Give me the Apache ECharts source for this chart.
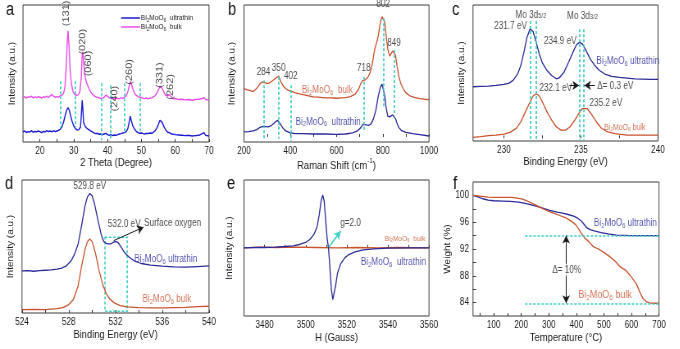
<!DOCTYPE html>
<html>
<head>
<meta charset="utf-8">
<script src="https://cdn.jsdelivr.net/npm/echarts@6/dist/echarts.min.js"></script>
<style>
  html, body { margin: 0; padding: 0; background: #fff; overflow: hidden; }
  #wrap { width: 680px; height: 349px; overflow: hidden; }
  /* the figure is laid out wide and set in a horizontally condensed frame */
  #chart { height: 349px; transform-origin: 0 0; }
</style>
</head>
<body>
<div id="wrap"><div id="chart"></div></div>
<script>
// ---------- (a) XRD patterns ----------
const xrdBulkTheta = [15,15.5,16,16.5,17,17.5,18,18.5,19,19.5,20,20.5,21,21.5,22,22.5,23,23.5,24,24.5,25,25.5,26,26.5,27,27.4,27.8,28.1,28.3,28.6,28.9,29.3,29.8,30.3,30.8,31.3,31.8,32.2,32.5,32.7,32.9,33.2,33.6,34,34.5,35,35.5,36,36.5,37,37.5,38,38.5,39,39.5,40,40.5,41,41.5,42,42.5,43,43.5,44,44.5,45,45.5,46,46.4,46.8,47.1,47.5,48,48.5,49,49.5,50,50.5,51,51.5,52,52.5,53,53.5,54,54.5,55,55.5,55.8,56.2,56.7,57.2,57.7,58.2,58.7,59.2,59.7,60.2,61,62,63,64,65,66,67,68,68.5,69,69.5,70];
const xrdBulk = [133,136,131,135,134,137,132,135,133,136,134,131,135,134,137,133,138,142,137,134,136,134,138,140,146,165,230,300,333,290,220,175,150,142,140,141,150,190,262,270,240,205,185,172,160,150,143,139,135,134,132,130,131,134,140,137,133,130,132,128,131,129,130,132,131,134,138,150,168,182,172,158,146,140,136,134,133,131,130,132,129,131,132,135,138,145,155,167,170,160,148,140,138,142,136,131,129,130,127,128,126,127,125,127,128,130,133,127,126,127];
const xrdThinTheta = [15,15.5,16,16.5,17,17.5,18,18.5,19,19.5,20,20.5,21,21.5,22,22.5,23,23.5,24,24.5,25,25.5,26,26.5,27,27.5,27.9,28.3,28.7,29.1,29.5,30,30.5,31,31.5,32,32.3,32.5,32.7,32.9,33.3,33.8,34.3,35,35.5,36,36.5,37,37.5,38,38.5,39,39.5,40,40.5,41,41.5,42,42.5,43,43.5,44,44.5,45,45.5,46,46.4,46.7,47,47.4,48,48.5,49,49.5,50,50.5,51,51.5,52,52.5,53,53.5,54,54.5,55,55.5,55.8,56.2,56.7,57.2,57.7,58.2,59,60,61,62,63,64,65,66,67,68,68.5,69,70];
const xrdThin = [30,33,28,31,30,34,29,32,30,33,31,28,32,30,34,31,33,30,34,31,33,35,38,45,60,80,95,103,95,78,62,48,40,36,37,45,90,125,100,60,48,42,38,33,30,27,25,26,23,24,22,24,26,22,20,22,19,21,20,22,24,25,27,28,31,40,60,77,65,50,38,32,28,26,27,25,24,26,25,27,26,29,33,40,52,65,68,58,45,36,30,28,24,22,21,20,19,20,18,19,20,25,28,20,18];
const xrdRefLines = [[26.1,182,41],[30.5,182,45],[38.2,176,5],[40.9,170,10],[44.9,176,30],[49.7,176,30]];
const xrdPeakLabels = [['(131)',27.9,385],['(020)',32.7,300],['(060)',34.3,235],['(240)',42.1,130],['(260)',46.6,210],['(331)',55.4,200],['(262)',58.6,165]];
const xrdXLabels = [20,30,40,50,60,70];
const xrdXTicks = [20,25,30,35,40,45,50,55,60,65,70];

// ---------- (b) Raman spectra ----------
const ramanBulkShift = [200,210,220,230,240,250,260,270,280,290,300,310,320,330,340,350,355,360,370,380,390,400,420,440,460,480,500,520,540,560,580,600,620,640,660,680,695,705,712,718,725,735,745,755,765,780,790,797,802,808,815,822,830,837,843,849,855,862,870,878,888,900,920,940,960,980,1000];
const ramanBulk = [145,142,140,138,136,142,150,160,165,163,160,162,167,172,178,182,178,165,152,145,140,138,133,129,126,123,120,119,118,117,117,116,117,118,121,128,142,160,168,172,172,178,192,220,262,300,345,360,362,345,300,262,242,245,258,262,245,212,180,160,145,132,122,118,115,113,112];
const ramanThinShift = [200,220,240,255,265,275,284,295,305,315,325,335,345,350,358,368,380,400,420,450,500,550,600,640,670,690,705,715,722,730,740,750,760,770,780,790,797,802,808,815,822,830,836,843,849,855,862,870,880,900,930,960,1000];
const ramanThin = [15,16,18,22,27,30,32,31,30,33,38,45,50,48,38,27,18,12,10,10,9,9,8,9,12,18,28,38,40,36,35,40,55,80,120,150,158,155,125,85,62,60,62,66,63,55,40,28,20,14,10,7,3];
const ramanRefLines = [[284,170,-5],[350,180,-5],[402,155,-12],[718,180,20],[802,355,90],[849,260,65]];
const ramanPeakLabels = [['284',284,195],['350',350,205],['402',402,182],['718',718,205],['802',802,397],['849',849,282]];
const ramanXLabels = [200,400,600,800,1000];
const ramanXTicks = [200,300,400,500,600,700,800,900,1000];

// ---------- (c) Mo 3d XPS ----------
const mo3dEnergyThin = [228,228.5,229,229.5,230,230.3,230.6,230.9,231.1,231.3,231.5,231.7,231.9,232.1,232.3,232.5,232.8,233.1,233.4,233.6,233.9,234.2,234.5,234.7,234.9,235.1,235.3,235.6,235.9,236.2,236.6,237,237.5,238,238.5,239,239.5,240];
const mo3dThin = [156,157,158,160,163,166,175,195,220,260,305,331,322,290,255,228,205,190,180,183,200,230,262,282,290,285,268,240,220,205,193,187,184,182,180,179,178,178];
const mo3dEnergyBulk = [228,228.5,229,229.5,230,230.4,230.8,231.1,231.4,231.7,231.9,232.1,232.3,232.5,232.8,233.1,233.4,233.7,234,234.3,234.6,234.9,235.1,235.2,235.4,235.7,236,236.3,236.7,237.2,238,239,240];
const mo3dBulk = [3,5,8,10,13,18,30,50,80,110,128,135,128,110,80,55,35,25,25,35,55,78,90,93,90,72,50,32,20,14,10,10,10];
const mo3dRefLines = [[231.7,355,-5],[232.1,355,-5],[234.9,330,-5],[235.2,330,-5]];
const mo3dXLabels = [230,235,240];
const mo3dXTicks = [230,232.5,235,237.5,240];

// ---------- (d) O 1s XPS ----------
const o1sEnergyThin = [524,524.5,525,525.5,526,526.5,527,527.4,527.8,528.2,528.5,528.8,529.1,529.4,529.6,529.8,530,530.2,530.5,530.8,531,531.3,531.6,531.8,532,532.2,532.5,532.8,533.2,533.6,534.2,535,536,537,538,539,540];
const o1sThin = [125,126,124,126,127,128,130,133,140,155,175,205,260,320,345,355,348,325,275,230,212,205,205,210,213,210,195,178,165,155,147,142,139,137,136,138,140];
const o1sEnergyBulk = [524,525,526,527,527.5,528,528.4,528.8,529.1,529.4,529.6,529.8,530,530.3,530.6,530.9,531.2,531.5,531.9,532.4,533,534,535,536,537,538,539,540];
const o1sBulk = [10,11,10,13,16,25,40,80,140,190,212,220,212,175,125,85,58,42,30,22,18,16,15,15,16,17,19,20];
const o1sXLabels = [524,528,532,536,540];
const o1sXTicks = [524,526,528,530,532,534,536,538,540];

// ---------- (e) EPR ----------
const eprFieldThin = [3470,3475,3480,3485,3490,3494,3497,3500,3502,3504,3505.5,3506.5,3507.5,3508.3,3509,3509.7,3510.4,3511.1,3511.8,3512.5,3513.2,3513.8,3514.5,3515.5,3517,3519,3521,3524,3528,3533,3540,3550,3560];
const eprThin = [0,1,1,2,4,6,10,16,25,40,62,95,140,158,140,85,30,0,-60,-125,-155,-150,-115,-75,-48,-30,-20,-12,-6,-3,-1,0,0];
const eprFieldBulk = [3470,3478,3485,3495,3505,3515,3525,3535,3545,3560];
const eprBulk = [0,2,1,2,1,0,1,0,1,0];
const eprXLabels = [3480,3500,3520,3540,3560];
const eprXTicks = [3470,3480,3490,3500,3510,3520,3530,3540,3550,3560];

// ---------- (f) TGA ----------
const tgaTempThin = [25,40,60,80,100,130,160,190,210,230,250,270,300,330,350,370,390,405,420,437,450,465,490,515,545,600,650,700];
const tgaThin = [100,99.8,99.5,99.3,99.2,99.15,99.1,99.0,98.85,98.65,98.45,98.2,97.8,97.5,97.35,97.15,96.9,96.6,96.1,95.2,94.9,94.7,94.45,94.25,94.07,94.0,94.0,94.0];
const tgaTempBulk = [25,50,80,110,140,165,185,205,220,240,260,280,300,320,340,360,375,390,400,410,420,432,445,460,480,500,520,540,560,580,600,618,630,642,655,665,680,700];
const tgaBulk = [100,99.9,99.75,99.7,99.7,99.7,99.6,99.45,99.2,98.8,98.4,98.0,97.6,97.3,97.0,96.7,96.3,95.9,95.5,94.9,94.2,93.6,93.1,92.4,92.0,91.5,90.9,90.2,89.3,88.8,87.8,86.8,85.6,84.6,84.1,83.95,83.9,83.9];
const tgaPlateaus = [94.0, 83.9];
const tgaXLabels = [100,200,300,400,500,600,700];
const tgaXTicks = [50,100,150,200,250,300,350,400,450,500,550,600,650,700];
const tgaYLabels = [84,88,92,96,100];
const tgaYTicks = [84,86,88,90,92,94,96,98,100];

// ---------- layout frame ----------
// Horizontal condensing factor: the chart is laid out SX-times wider and squeezed back to 680 px.
const SX = 0.82;
const W = 680, H = 349;
const px = v => v / SX;
const chartEl = document.getElementById('chart');
chartEl.style.width = px(W) + 'px';
chartEl.style.transform = `scaleX(${SX})`;

// ---------- styling ----------
const FONT = '"Liberation Sans", Arial, sans-serif';
const BLUE_A = '#1a1ad2';
const PINK_A = '#ea4cea';
const NAVY = '#2a2a98';
const RUST = '#c8532e';
const TEAL = '#3ecdc2';
const INK = '#1a1a1a';
const TICK_FS = 10;
const TITLE_FS = 11.5;
const YTITLE_FS = 10;
const NOTE_FS = 10;

const xy = (xs, ys) => xs.map((x, i) => [x, ys[i]]);

// Bi2MoO6 with subscripts as rich text
const bmo = (tail, gap) => `{n|Bi}{ns|2}{n|MoO}{ns|6}{n|${gap || ' '}${tail}}`;
const richSet = (size, color) => ({
  n: { fontSize: size, color: color, fontFamily: FONT, lineHeight: size + 2 },
  ns: { fontSize: Math.round(size * 0.7 * 10) / 10, color: color, fontFamily: FONT, lineHeight: size * 0.7, verticalAlign: 'bottom' }
});

function grid(left, top, width, height) {
  return { left: px(left), top, width: px(width), height, show: true, borderColor: '#3a3a3a', borderWidth: 1, backgroundColor: 'transparent' };
}

function xAx(gi, min, max, labels, ticks, name, nameGap, extra) {
  return Object.assign({
    gridIndex: gi, type: 'value', min, max,
    axisLine: { show: false },
    splitLine: { show: false },
    axisTick: { show: true, inside: true, length: 3, customValues: ticks, lineStyle: { color: '#333' } },
    axisLabel: { customValues: labels, fontSize: TICK_FS, color: INK, fontFamily: FONT, margin: 4, formatter: v => String(v) },
    name, nameLocation: 'middle', nameGap,
    nameTextStyle: { fontSize: TITLE_FS, color: INK, fontFamily: FONT }
  }, extra || {});
}

function yAx(gi, min, max, name, nameGap) {
  return {
    gridIndex: gi, type: 'value', min, max,
    axisLine: { show: false }, axisTick: { show: false }, axisLabel: { show: false },
    splitLine: { show: false },
    name, nameLocation: 'middle', nameGap: px(nameGap),
    nameTextStyle: { fontSize: YTITLE_FS, color: INK, fontFamily: FONT }
  };
}

function line(name, gi, data, color, width, extra) {
  return Object.assign({
    name, type: 'line', xAxisIndex: gi, yAxisIndex: gi, data,
    symbol: 'none', smooth: false, silent: true, z: 3,
    lineStyle: { color, width }, itemStyle: { color }
  }, extra || {});
}

function refLines(lines, color, width) {
  return {
    silent: true, symbol: 'none', label: { show: false },
    lineStyle: { color: color || TEAL, width: width || 1.7, type: [3, 2] },
    data: lines.map(([x, y1, y2]) => [{ coord: [x, y1] }, { coord: [x, y2] }])
  };
}

function arrows(segs, color, width, both) {
  return {
    silent: true, symbol: both ? ['arrow', 'arrow'] : ['none', 'arrow'], symbolSize: [7, 8],
    label: { show: false },
    lineStyle: { color, width: width || 1, type: 'solid' },
    data: segs.map(([x1, y1, x2, y2]) => [{ coord: [x1, y1] }, { coord: [x2, y2] }])
  };
}

// text annotations anchored at data coordinates
function notes(gi, items) {
  return {
    type: 'scatter', xAxisIndex: gi, yAxisIndex: gi, symbolSize: 0, silent: true, clip: false, z: 10,
    data: items.map(it => ({
      value: [it.x, it.y],
      label: Object.assign({
        show: true, position: 'inside', formatter: it.text,
        fontSize: it.size || NOTE_FS, color: it.color || INK, fontFamily: FONT,
        align: it.align || 'center', verticalAlign: 'middle',
        rich: it.rich
      }, it.label || {})
    }))
  };
}

const thinRich = richSet(10, NAVY);
const bulkRich = richSet(10, RUST);
const moRich = {
  t: { fontSize: 10, color: INK, fontFamily: FONT, lineHeight: 12, verticalAlign: 'bottom' },
  s: { fontSize: 7, color: INK, fontFamily: FONT, lineHeight: 9, verticalAlign: 'bottom' }
};
const letter = (t, x, y) => ({ type: 'text', left: px(x), top: y, style: { text: t, fontSize: 18, fontFamily: FONT, fill: '#111' } });

const option = {
  animation: false,
  textStyle: { fontFamily: FONT },
  graphic: [
    letter('a', 6, 1), letter('b', 228, 1), letter('c', 452, 1),
    letter('d', 5, 175), letter('e', 227, 175), letter('f', 453, 175)
  ],
  legend: [{
    data: ['a-thin', 'a-bulk'], left: px(117), top: 9, orient: 'vertical', itemGap: 0,
    icon: 'rect', itemWidth: px(19), itemHeight: 1.5,
    formatter: n => n === 'a-thin' ? bmo('ultrathin', '  ') : bmo('bulk', '  '),
    textStyle: { rich: richSet(8, INK), padding: [0, 0, 0, -4] }
  }],
  grid: [
    grid(23, 5, 186, 137),
    grid(244, 5, 185, 137),
    grid(473, 5, 185, 136),
    grid(22, 180, 187, 133),
    grid(244, 180, 185, 136),
    grid(473, 182, 186, 134)
  ],
  xAxis: [
    xAx(0, 15, 70, xrdXLabels, xrdXTicks, '2 Theta (Degree)', 14),
    xAx(1, 200, 1000, ramanXLabels, ramanXTicks, '{t|Raman Shift (cm}{sup|-1}{t|)}', 15, {
      nameTextStyle: { rich: {
        t: { fontSize: TITLE_FS, color: INK, fontFamily: FONT, lineHeight: 15, verticalAlign: 'bottom' },
        sup: { fontSize: 7.5, color: INK, fontFamily: FONT, lineHeight: 15, verticalAlign: 'top' }
      } }
    }),
    xAx(2, 228, 240, mo3dXLabels, mo3dXTicks, 'Binding Energy (eV)', 14),
    xAx(3, 524, 540, o1sXLabels, o1sXTicks, 'Binding Energy (eV)', 16),
    xAx(4, 3470, 3560, eprXLabels, eprXTicks, 'H (Gauss)', 16),
    xAx(5, 25, 700, tgaXLabels, tgaXTicks, 'Temperature (\u00B0C)', 16)
  ],
  yAxis: [
    yAx(0, 0, 410, 'Intensity (a.u.)', 6),
    yAx(1, -15, 395, 'Intensity (a.u.)', 8),
    yAx(2, -8, 403, 'Intensity (a.u.)', 7),
    yAx(3, 0, 395, 'Intensity (a.u.)', 7),
    yAx(4, -204, 203, 'Intensity (a.u.)', 10),
    Object.assign(yAx(5, 82, 102, 'Weight (%)', 17), {
      axisLabel: { show: true, customValues: tgaYLabels, fontSize: TICK_FS, color: INK, fontFamily: FONT, margin: px(4) },
      axisTick: { show: true, inside: true, length: px(3), customValues: tgaYTicks, lineStyle: { color: '#333' } }
    })
  ],
  series: [
    // (a)
    line('a-bulk', 0, xy(xrdBulkTheta, xrdBulk), PINK_A, 1.4),
    line('a-thin', 0, xy(xrdThinTheta, xrdThin), BLUE_A, 1.4, { markLine: refLines(xrdRefLines) }),
    notes(0, xrdPeakLabels.map(([t, x, y]) => ({ text: t, x, y, size: 11, label: { rotate: 90 } }))),

    // (b)
    line('b-bulk', 1, xy(ramanBulkShift, ramanBulk), RUST, 1.3),
    line('b-thin', 1, xy(ramanThinShift, ramanThin), NAVY, 1.3, { markLine: refLines(ramanRefLines) }),
    notes(1, ramanPeakLabels.map(([t, x, y]) => ({ text: t, x, y, size: 10 })).concat([
      { text: bmo('bulk', '  '), x: 450, y: 140, align: 'left', rich: bulkRich },
      { text: bmo('ultrathin', '  '), x: 423, y: 45, align: 'left', rich: thinRich }
    ])),

    // (c)
    line('c-thin', 2, xy(mo3dEnergyThin, mo3dThin), NAVY, 1.3),
    line('c-bulk', 2, xy(mo3dEnergyBulk, mo3dBulk), RUST, 1.3, {
      markLine: refLines(mo3dRefLines)
    }),
    line('c-arrows', 2, [], INK, 1, {
      markLine: arrows([[234.25, 160, 234.88, 160], [235.9, 160, 235.22, 160]], INK, 1)
    }),
    notes(2, [
      { text: '{t|Mo 3d}{s|5/2}', x: 231.75, y: 376, rich: moRich },
      { text: '{t|Mo 3d}{s|3/2}', x: 235.1, y: 373, rich: moRich },
      { text: '231.7 eV', x: 231.5, y: 338, align: 'right' },
      { text: '234.9 eV', x: 234.72, y: 293, align: 'right' },
      { text: '232.1 eV', x: 232.3, y: 150, align: 'left' },
      { text: '235.2 eV', x: 235.55, y: 105, align: 'left' },
      { text: '\u0394= 0.3 eV', x: 236.05, y: 156, align: 'left' },
      { text: bmo('ultrathin'), x: 236.0, y: 233, align: 'left', rich: thinRich },
      { text: bmo('bulk'), x: 236.5, y: 33, align: 'left', rich: richSet(8.5, RUST) }
    ]),

    // (d)
    line('d-thin', 3, xy(o1sEnergyThin, o1sThin), NAVY, 1.3),
    line('d-bulk', 3, xy(o1sEnergyBulk, o1sBulk), RUST, 1.3, {
      markArea: {
        silent: true,
        itemStyle: { color: 'rgba(0,0,0,0)', borderColor: TEAL, borderWidth: 1.6, borderType: [3, 2] },
        data: [[{ coord: [531.1, 225] }, { coord: [533.0, 5] }]]
      },
      markLine: arrows([[531.85, 215, 534.4, 255]], INK, 1)
    }),
    notes(3, [
      { text: '529.8 eV', x: 529.8, y: 375 },
      { text: '532.0 eV', x: 532.75, y: 265 },
      { text: 'Surface oxygen', x: 534.45, y: 267, align: 'left' },
      { text: bmo('ultrathin'), x: 536.3, y: 160, rich: thinRich },
      { text: bmo('bulk'), x: 536.4, y: 40, rich: bulkRich }
    ]),

    // (e)
    line('e-bulk', 4, xy(eprFieldBulk, eprBulk), RUST, 1.3),
    line('e-thin', 4, xy(eprFieldThin, eprThin), NAVY, 1.3, {
      markLine: arrows([[3511.2, 2, 3517, 50]], TEAL, 1.5)
    }),
    notes(4, [
      { text: 'g=2.0', x: 3516.8, y: 75, align: 'left' },
      { text: bmo('bulk', '  '), x: 3548.3, y: 28, rich: richSet(8, RUST) },
      { text: bmo('ultrathin', '  '), x: 3542.7, y: -44, rich: thinRich }
    ]),

    // (f)
    line('f-thin', 5, xy(tgaTempThin, tgaThin), NAVY, 1.3),
    line('f-bulk', 5, xy(tgaTempBulk, tgaBulk), RUST, 1.3, {
      markLine: {
        silent: true, symbol: 'none', label: { show: false },
        lineStyle: { color: TEAL, width: 1.6, type: [3, 2] },
        data: tgaPlateaus.map(v => [{ coord: [214, v] }, { coord: [700, v] }])
      }
    }),
    line('f-arrow', 5, [], INK, 1, {
      markLine: arrows([[363, tgaPlateaus[0], 363, tgaPlateaus[1]]], INK, 1, true)
    }),
    notes(5, [
      { text: '\u0394= 10%', x: 365, y: 88.9, label: { backgroundColor: '#fff', padding: [1, 0] } },
      { text: bmo('ultrathin'), x: 464, y: 95.8, align: 'left', rich: thinRich },
      { text: bmo('bulk'), x: 407, y: 85.1, align: 'left', rich: richSet(11, RUST) }
    ])
  ]
};

const chart = echarts.init(chartEl, null, { renderer: 'canvas', width: px(W), height: H });
chart.setOption(option);
</script>
</body>
</html>
